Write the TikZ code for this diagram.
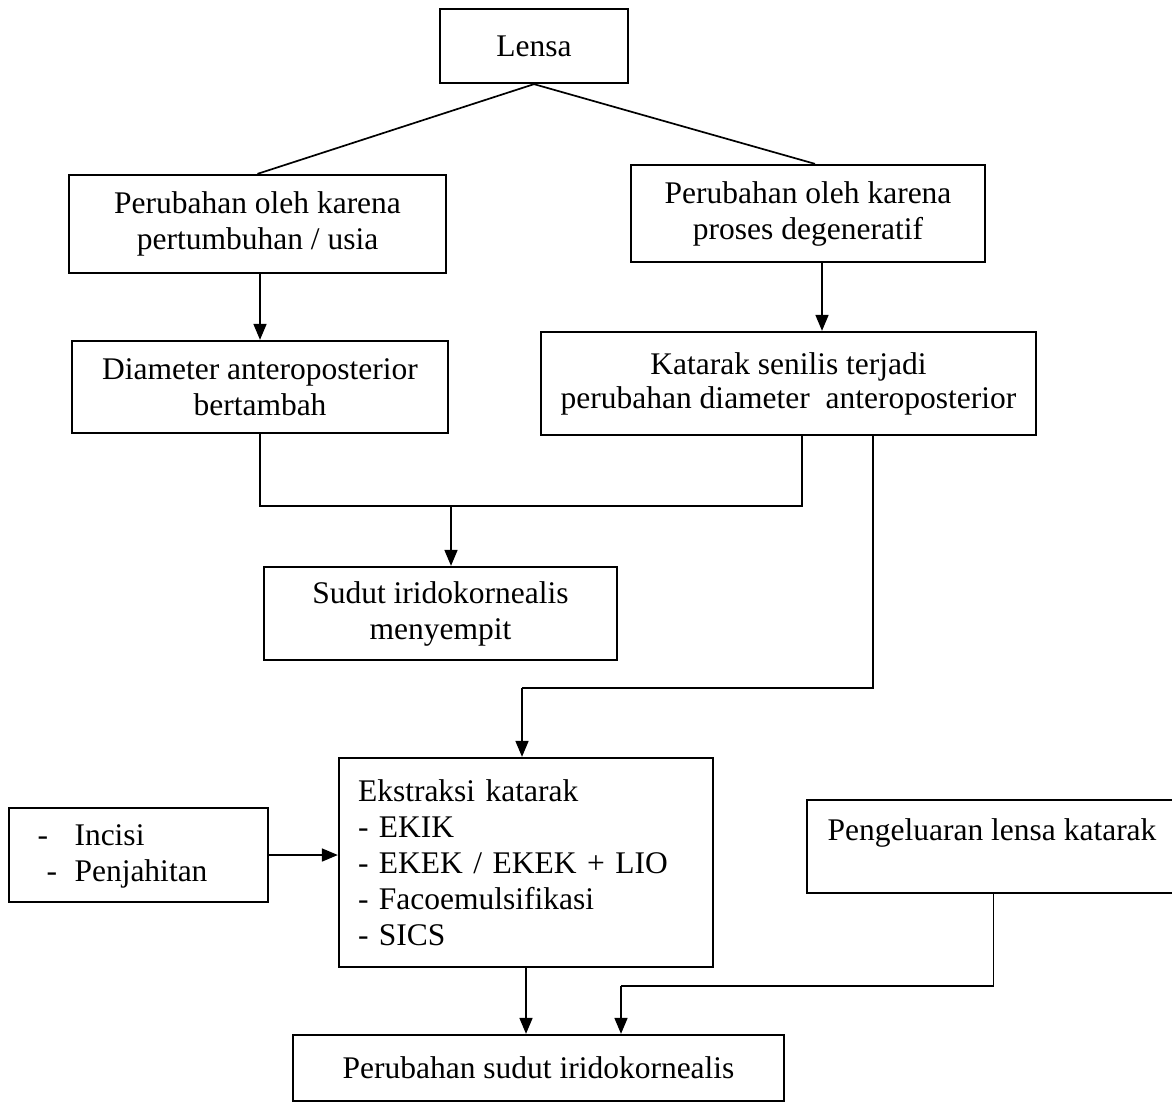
\documentclass[tikz,border=0pt]{standalone}
\usepackage{fontspec}
\setmainfont{Liberation Serif}
\usetikzlibrary{arrows.meta,calc}
\begin{document}
\begin{tikzpicture}[x=1pt,y=-1pt,
  every node/.style={font=\fontsize{31.5}{36}\selectfont},
  box/.style={draw,line width=2.3pt,inner sep=0pt,align=center},
  conn/.style={line width=1.7pt},
  arr/.style={conn,-{Triangle[length=16pt,width=13pt]}}]
\useasboundingbox (0,0) rectangle (1172,1103);
\fill[white] (0,0) rectangle (1172,1103);

\node[box,minimum width=188,minimum height=74] (lensa) at (534,46) {Lensa};
\node[box,minimum width=377,minimum height=98] (tumbuh) at (257.5,224) {Perubahan oleh karena\\pertumbuhan / usia};
\node[box,minimum width=354,minimum height=97] (degen) at (808,213.5) {Perubahan oleh karena\\proses degeneratif};
\node[box,minimum width=376,minimum height=92] (diam) at (260,387) {Diameter anteroposterior\\bertambah};
\node[box,minimum width=495,minimum height=103] (kat) at (788.5,383.5) {Katarak senilis terjadi\\[-2pt]perubahan diameter\ \ anteroposterior};
\node[box,minimum width=353,minimum height=93] (sudut) at (440.5,613.5) {Sudut iridokornealis\\menyempit};
\node[box,minimum width=374,minimum height=209,text width=336,align=left] (ekstr) at (526,862.5)
  {Ekstraksi katarak\\- EKIK\\- EKEK / EKEK + LIO\\- Facoemulsifikasi\\- SICS};
\node[box,minimum width=259,minimum height=94] (inc) at (138.5,855) {};
\node[anchor=west,align=left] (inct) at (34,856) {\makebox[37pt][l]{-}Incisi\\\hspace*{9pt}\makebox[28pt][l]{-}Penjahitan};
\node[box,minimum width=373,minimum height=93] (peng) at (993.5,846.5) {};
\node (pengt) at (992,833) {Pengeluaran lensa katarak};
\node[box,minimum width=491,minimum height=66] (perub) at (538.5,1068) {Perubahan sudut iridokornealis};

% connectors
\draw[conn] (lensa.south) -- (tumbuh.north);
\draw[conn] (lensa.south) -- ([xshift=7pt]degen.north);
\draw[arr] (tumbuh.south -| diam.north) -- (diam.north);
\draw[arr] ([xshift=14pt]degen.south) -- ([xshift=14pt]degen.south |- kat.north);

\coordinate (mj) at (451,506);
\draw[conn] (diam.south) |- (mj) -| ([xshift=13.5pt]kat.south);
\draw[arr] (mj) -- (mj |- sudut.north);

\coordinate (c2) at (522,688);
\draw[conn] ([xshift=84.5pt]kat.south) |- (c2);
\draw[arr] (c2) -- (c2 |- ekstr.north);

\draw[arr] (inc.east) -- (inc.east -| ekstr.west);
\draw[arr] (ekstr.south) -- (ekstr.south |- perub.north);

\coordinate (c3) at (621,986);
\draw[conn] (peng.south) |- (c3);
\draw[arr] (c3) -- (c3 |- perub.north);
\end{tikzpicture}
\end{document}
